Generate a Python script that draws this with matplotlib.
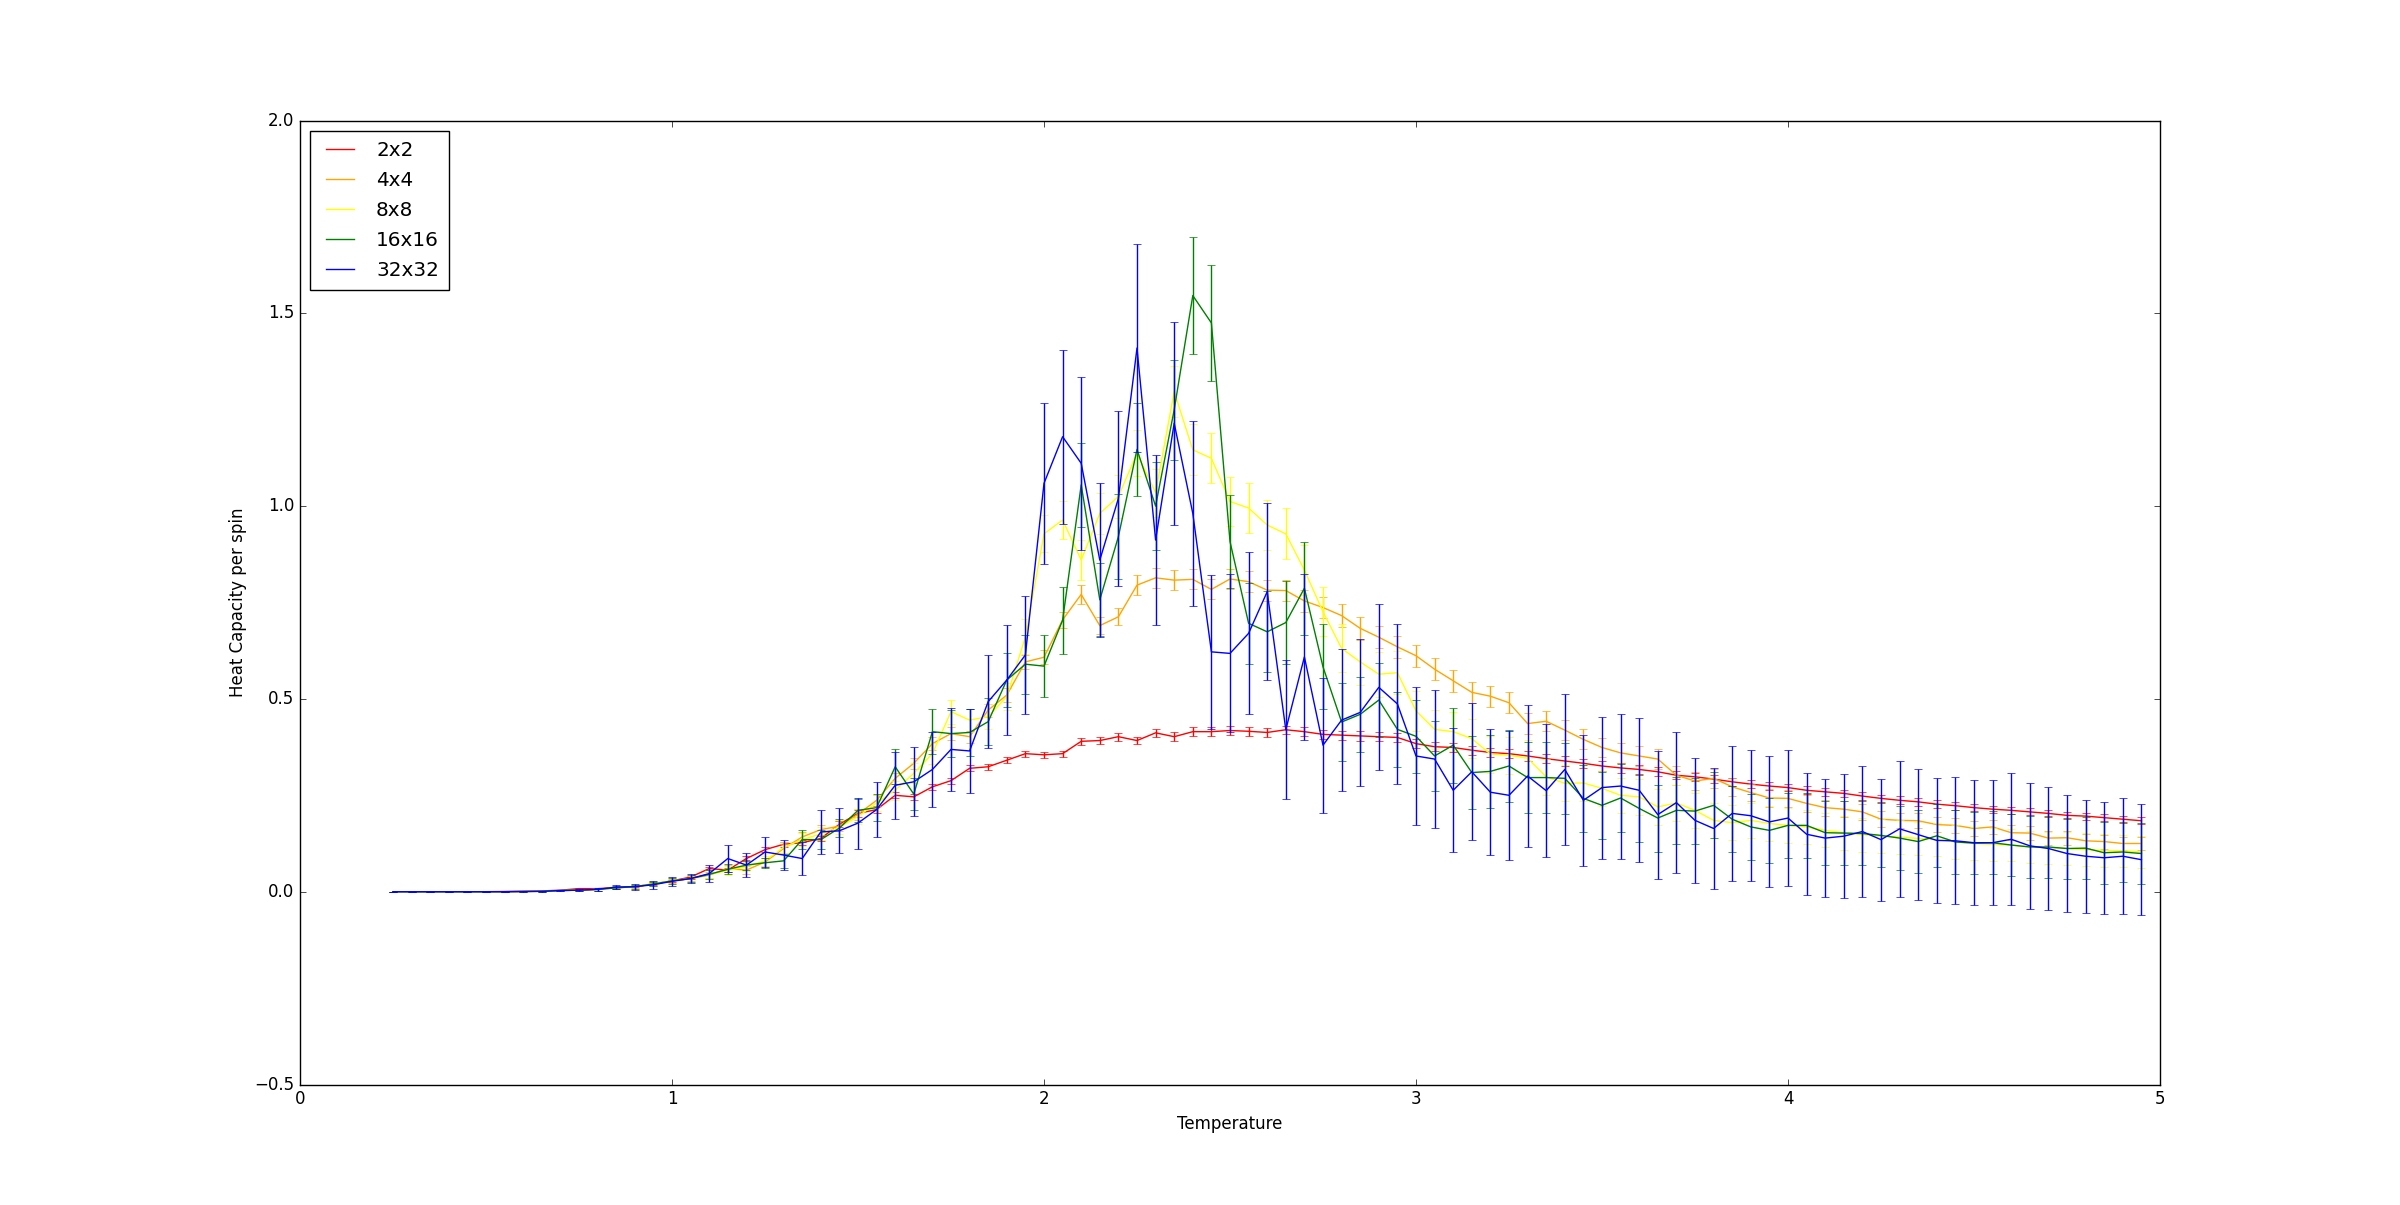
import numpy as np
import matplotlib
matplotlib.use("Agg")
import matplotlib.pyplot as plt

plt.style.use('classic')

# temperatures 0.25 ... 4.95 step 0.05
temps = [round(0.25 + 0.05 * i, 2) for i in range(95)]

labels = ['2x2', '4x4', '8x8', '16x16', '32x32']
colors = ['red', 'orange', 'yellow', 'green', 'blue']

# heat capacity per spin
c_2x2 = [0, 0, 0, 0, 0, 0, 0.0005, 0.001, 0.002, 0.004,
         0.008, 0.008, 0.011, 0.013, 0.020, 0.028, 0.038, 0.060, 0.056, 0.086,
         0.109, 0.123, 0.127, 0.138, 0.175, 0.203, 0.213, 0.250, 0.246, 0.272,
         0.288, 0.320, 0.324, 0.341, 0.358,
         0.355, 0.358, 0.390, 0.392, 0.402, 0.392, 0.412, 0.402, 0.415, 0.415,
         0.418, 0.416, 0.413, 0.420, 0.415, 0.408, 0.406, 0.404, 0.402, 0.400,
         0.384, 0.376, 0.374, 0.367, 0.361, 0.358, 0.352, 0.345, 0.339, 0.333,
         0.326, 0.321, 0.317, 0.311, 0.302, 0.298, 0.292, 0.285, 0.279, 0.274,
         0.270, 0.263, 0.259, 0.255, 0.248, 0.242, 0.237, 0.233, 0.227, 0.223,
         0.218, 0.214, 0.211, 0.207, 0.203, 0.198, 0.196, 0.192, 0.188, 0.184]
c_4x4 = [0, 0, 0, 0, 0, 0, 0, 0.0005, 0.001, 0.003,
         0.004, 0.006, 0.010, 0.013, 0.020, 0.028, 0.034, 0.043, 0.060, 0.056,
         0.077, 0.112, 0.142, 0.161, 0.170, 0.201, 0.237, 0.294, 0.333, 0.384,
         0.410, 0.402, 0.471, 0.510, 0.596,
         0.608, 0.705, 0.771, 0.690, 0.713, 0.795, 0.814, 0.808, 0.810, 0.784,
         0.811, 0.804, 0.782, 0.781, 0.754, 0.737, 0.716, 0.683, 0.660, 0.635,
         0.612, 0.577, 0.547, 0.517, 0.507, 0.490, 0.436, 0.442, 0.419, 0.395,
         0.374, 0.360, 0.352, 0.344, 0.302, 0.287, 0.294, 0.272, 0.257, 0.243,
         0.242, 0.229, 0.218, 0.214, 0.207, 0.188, 0.185, 0.184, 0.174, 0.172,
         0.164, 0.168, 0.153, 0.152, 0.139, 0.140, 0.132, 0.130, 0.125, 0.125]
c_8x8 = [0, 0, 0, 0, 0, 0, 0, 0.0005, 0.001, 0.003,
         0.004, 0.006, 0.010, 0.013, 0.022, 0.028, 0.034, 0.045, 0.055, 0.065,
         0.080, 0.115, 0.135, 0.150, 0.168, 0.195, 0.230, 0.263, 0.307, 0.358,
         0.467, 0.445, 0.454, 0.506, 0.661,
         0.928, 0.964, 0.860, 0.981, 1.025, 1.137, 1.035, 1.297, 1.146, 1.124,
         1.012, 0.995, 0.951, 0.928, 0.834, 0.726, 0.631, 0.596, 0.564, 0.568,
         0.469, 0.421, 0.415, 0.397, 0.357, 0.354, 0.346, 0.298, 0.281, 0.282,
         0.268, 0.250, 0.246, 0.220, 0.230, 0.211, 0.185, 0.179, 0.185, 0.177,
         0.172, 0.168, 0.159, 0.153, 0.148, 0.144, 0.142, 0.138, 0.135, 0.129,
         0.125, 0.123, 0.121, 0.116, 0.114, 0.112, 0.109, 0.107, 0.106, 0.103]
c_16x16 = [0, 0, 0, 0, 0, 0, 0, 0.0005, 0.001, 0.003,
           0.004, 0.006, 0.010, 0.013, 0.020, 0.028, 0.034, 0.045, 0.058, 0.069,
           0.075, 0.080, 0.135, 0.135, 0.165, 0.211, 0.218, 0.324, 0.253, 0.415,
           0.410, 0.413, 0.441, 0.549, 0.590,
           0.585, 0.704, 1.055, 0.757, 0.921, 1.147, 1.000, 1.250, 1.546, 1.475,
           0.908, 0.696, 0.674, 0.698, 0.787, 0.583, 0.440, 0.460, 0.497, 0.421,
           0.403, 0.352, 0.380, 0.309, 0.312, 0.326, 0.296, 0.296, 0.294, 0.242,
           0.224, 0.243, 0.216, 0.191, 0.211, 0.209, 0.224, 0.188, 0.168, 0.159,
           0.172, 0.172, 0.153, 0.152, 0.151, 0.146, 0.139, 0.130, 0.145, 0.129,
           0.126, 0.127, 0.121, 0.116, 0.116, 0.112, 0.113, 0.101, 0.103, 0.099]
c_32x32 = [0, 0, 0, 0, 0, 0, 0, 0.0005, 0.001, 0.003,
           0.004, 0.006, 0.012, 0.013, 0.018, 0.027, 0.034, 0.047, 0.086, 0.069,
           0.103, 0.095, 0.086, 0.155, 0.158, 0.178, 0.213, 0.276, 0.285, 0.317,
           0.369, 0.365, 0.493, 0.549, 0.614,
           1.059, 1.180, 1.111, 0.860, 1.020, 1.410, 0.912, 1.215, 0.981, 0.622,
           0.618, 0.670, 0.778, 0.420, 0.609, 0.380, 0.445, 0.465, 0.530, 0.487,
           0.352, 0.344, 0.263, 0.311, 0.258, 0.250, 0.300, 0.262, 0.317, 0.237,
           0.270, 0.274, 0.263, 0.200, 0.231, 0.185, 0.164, 0.203, 0.197, 0.181,
           0.191, 0.149, 0.139, 0.144, 0.156, 0.135, 0.163, 0.148, 0.133, 0.132,
           0.127, 0.127, 0.136, 0.119, 0.112, 0.099, 0.092, 0.088, 0.092, 0.083]

# error bars
e_2x2 = [0, 0, 0, 0, 0, 0, 0.0003, 0.0005, 0.001, 0.001,
         0.001, 0.001, 0.002, 0.002, 0.003, 0.003, 0.004, 0.005, 0.005, 0.006,
         0.006, 0.007, 0.007, 0.007, 0.008, 0.008, 0.008, 0.008, 0.008, 0.008,
         0.008, 0.008, 0.008, 0.008, 0.008,
         0.008, 0.008, 0.009, 0.009, 0.010, 0.010, 0.010, 0.011, 0.011, 0.011,
         0.011, 0.011, 0.011, 0.011, 0.012, 0.012, 0.012, 0.012, 0.012, 0.012,
         0.012, 0.012, 0.012, 0.012, 0.012, 0.012, 0.012, 0.012, 0.012, 0.012,
         0.012, 0.012, 0.012, 0.012, 0.011, 0.011, 0.011, 0.011, 0.011, 0.011,
         0.010, 0.010, 0.010, 0.010, 0.010, 0.010, 0.010, 0.010, 0.010, 0.010,
         0.010, 0.009, 0.009, 0.009, 0.009, 0.009, 0.009, 0.009, 0.009, 0.009]
e_4x4 = [0, 0, 0, 0, 0, 0, 0, 0.0005, 0.001, 0.001,
         0.002, 0.003, 0.003, 0.004, 0.005, 0.006, 0.007, 0.008, 0.009, 0.010,
         0.011, 0.012, 0.012, 0.013, 0.013, 0.014, 0.014, 0.015, 0.015, 0.016,
         0.016, 0.016, 0.017, 0.017, 0.018,
         0.018, 0.020, 0.024, 0.022, 0.022, 0.026, 0.026, 0.026, 0.026, 0.026,
         0.027, 0.027, 0.027, 0.027, 0.028, 0.028, 0.029, 0.029, 0.029, 0.029,
         0.029, 0.028, 0.028, 0.027, 0.027, 0.027, 0.027, 0.026, 0.026, 0.026,
         0.025, 0.025, 0.025, 0.025, 0.024, 0.024, 0.024, 0.023, 0.023, 0.023,
         0.022, 0.022, 0.021, 0.021, 0.021, 0.020, 0.020, 0.020, 0.020, 0.020,
         0.019, 0.019, 0.019, 0.019, 0.018, 0.018, 0.018, 0.018, 0.018, 0.018]
e_8x8 = [0, 0, 0, 0, 0, 0, 0, 0.0005, 0.001, 0.001,
         0.002, 0.003, 0.004, 0.005, 0.006, 0.007, 0.008, 0.010, 0.011, 0.012,
         0.013, 0.015, 0.016, 0.017, 0.018, 0.020, 0.022, 0.024, 0.026, 0.028,
         0.031, 0.030, 0.032, 0.035, 0.045,
         0.048, 0.050, 0.052, 0.054, 0.056, 0.060, 0.062, 0.067, 0.066, 0.065,
         0.064, 0.065, 0.066, 0.066, 0.065, 0.064, 0.062, 0.060, 0.058, 0.056,
         0.052, 0.050, 0.050, 0.050, 0.048, 0.048, 0.048, 0.047, 0.047, 0.047,
         0.046, 0.046, 0.046, 0.046, 0.046, 0.045, 0.045, 0.045, 0.045, 0.045,
         0.045, 0.045, 0.044, 0.044, 0.044, 0.044, 0.043, 0.043, 0.043, 0.043,
         0.043, 0.043, 0.042, 0.042, 0.042, 0.042, 0.042, 0.042, 0.042, 0.042]
e_16x16 = [0, 0, 0, 0, 0, 0, 0, 0.0005, 0.001, 0.001,
           0.002, 0.003, 0.004, 0.005, 0.006, 0.008, 0.010, 0.012, 0.013, 0.013,
           0.013, 0.018, 0.024, 0.024, 0.024, 0.030, 0.035, 0.045, 0.041, 0.058,
           0.060, 0.062, 0.061, 0.069, 0.076,
           0.080, 0.087, 0.109, 0.095, 0.110, 0.121, 0.115, 0.130, 0.151, 0.151,
           0.120, 0.105, 0.105, 0.107, 0.120, 0.110, 0.100, 0.098, 0.097, 0.097,
           0.095, 0.090, 0.097, 0.094, 0.094, 0.094, 0.093, 0.092, 0.092, 0.087,
           0.087, 0.087, 0.087, 0.087, 0.087, 0.086, 0.086, 0.085, 0.085, 0.085,
           0.084, 0.084, 0.083, 0.083, 0.083, 0.083, 0.082, 0.082, 0.082, 0.082,
           0.081, 0.081, 0.081, 0.081, 0.080, 0.080, 0.080, 0.080, 0.079, 0.079]
e_32x32 = [0, 0, 0, 0, 0, 0, 0, 0.001, 0.001, 0.002,
           0.003, 0.004, 0.006, 0.008, 0.010, 0.012, 0.012, 0.022, 0.035, 0.031,
           0.040, 0.040, 0.042, 0.056, 0.058, 0.066, 0.071, 0.087, 0.089, 0.098,
           0.108, 0.109, 0.121, 0.143, 0.154,
           0.209, 0.226, 0.224, 0.200, 0.226, 0.270, 0.220, 0.263, 0.240, 0.200,
           0.205, 0.210, 0.230, 0.180, 0.215, 0.175, 0.185, 0.190, 0.215, 0.208,
           0.180, 0.180, 0.161, 0.178, 0.164, 0.168, 0.185, 0.172, 0.195, 0.170,
           0.184, 0.188, 0.187, 0.166, 0.182, 0.163, 0.157, 0.174, 0.170, 0.170,
           0.177, 0.158, 0.154, 0.160, 0.169, 0.158, 0.176, 0.170, 0.162, 0.165,
           0.162, 0.162, 0.171, 0.164, 0.159, 0.152, 0.147, 0.145, 0.150, 0.144]

heat = [c_2x2, c_4x4, c_8x8, c_16x16, c_32x32]
errs = [e_2x2, e_4x4, e_8x8, e_16x16, e_32x32]

fig = plt.figure(figsize=(24, 12.05), dpi=100)
ax = fig.add_subplot(111)
handles = []
for c, e, col, lab in zip(heat, errs, colors, labels):
    ax.errorbar(temps, c, yerr=e, fmt='none', ecolor=col, capsize=3)
    line, = ax.plot(temps, c, color=col, label=lab)
    handles.append(line)

ax.set_xlim(0, 5)
ax.set_ylim(-0.5, 2.0)
ax.set_xlabel("Temperature")
ax.set_ylabel("Heat Capacity per spin")
ax.legend(handles=handles, loc='upper left', labelspacing=0.55, borderpad=0.5)

fig.savefig("out.png", dpi=100)
